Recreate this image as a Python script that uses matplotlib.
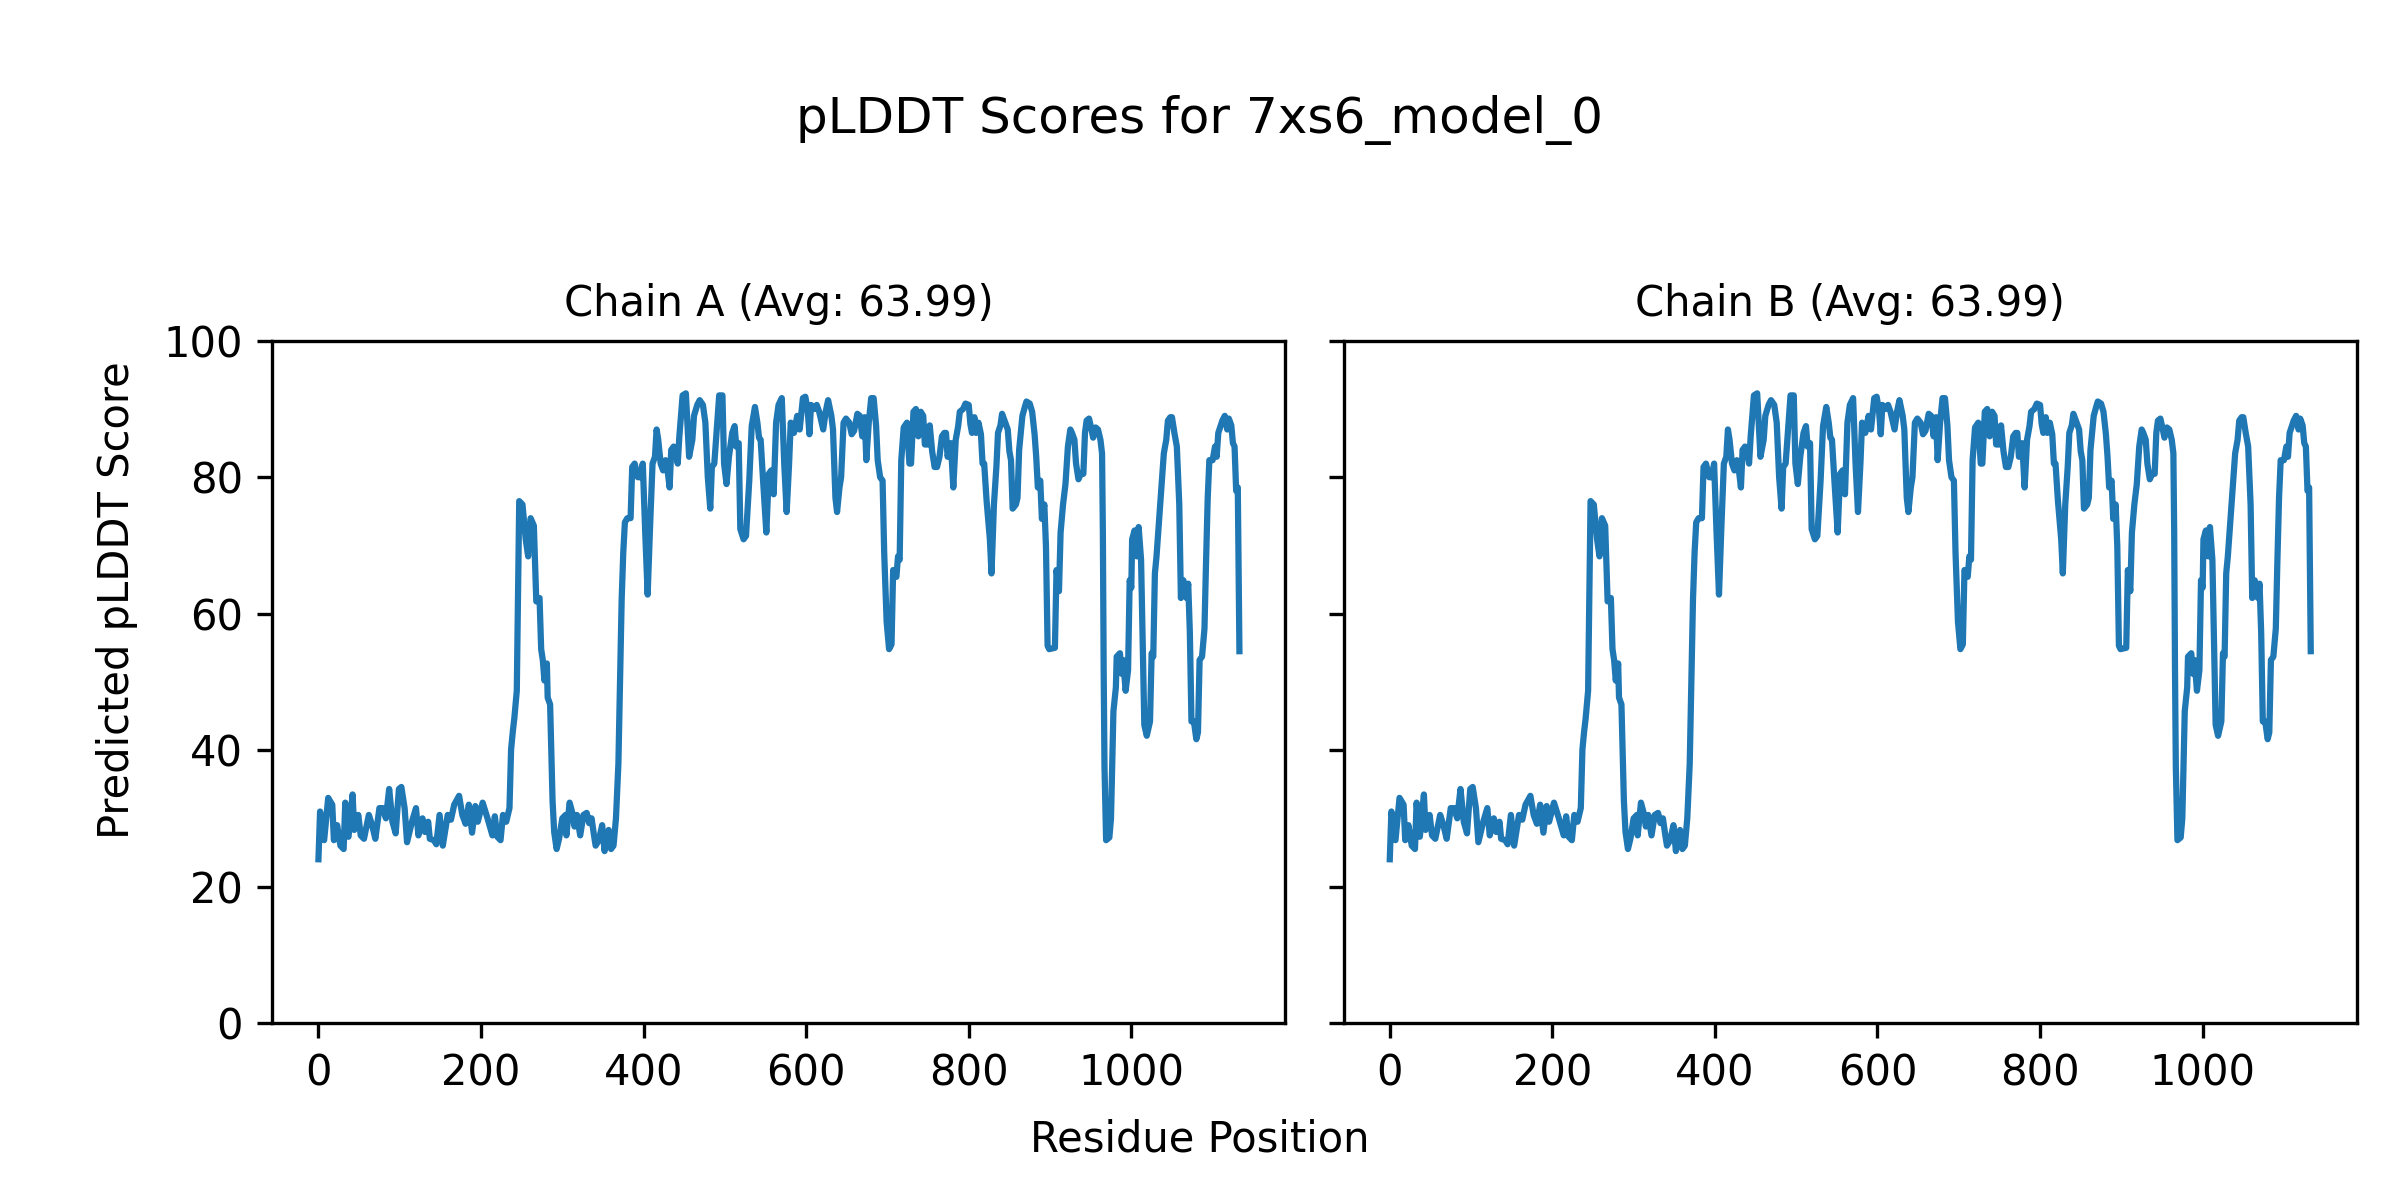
import matplotlib
matplotlib.use("Agg")
import matplotlib.pyplot as plt

title = "pLDDT Scores for 7xs6_model_0"
chain_names = ["Chain A", "Chain B"]
chain_avgs = [63.99, 63.99]
x_label = "Residue Position"
y_label = "Predicted pLDDT Score"

# Residue positions and pLDDT values
residues = [
    0, 2, 7, 12, 17, 19, 23, 27, 31, 33, 37, 42, 44, 49, 52, 56, 62, 66, 70, 75,
    79, 83, 87, 91, 95, 99, 102, 106, 109, 115, 120, 123, 128, 131, 135, 137, 142, 145, 149, 153,
    159, 163, 167, 173, 177, 181, 185, 189, 193, 196, 202, 208, 214, 217, 220, 224, 227, 231, 235, 237,
    239, 241, 244, 247, 251, 255, 258, 261, 265, 268, 272, 274, 276, 278, 281, 282, 285, 286, 288, 290,
    293, 296, 300, 304, 305, 309, 313, 315, 318, 322, 326, 330, 333, 336, 339, 341, 345, 349, 352, 354,
    357, 360, 363, 366, 369, 371, 373, 375, 377, 380, 384, 386, 389, 393, 396, 399, 402, 405, 408, 411,
    414, 416, 418, 421, 424, 427, 430, 432, 434, 437, 440, 442, 444, 448, 452, 456, 460, 462, 466, 469,
    473, 476, 479, 482, 484, 487, 490, 493, 497, 499, 502, 505, 509, 512, 514, 517, 519, 523, 526, 530,
    533, 537, 540, 542, 544, 547, 551, 554, 557, 560, 563, 566, 570, 573, 576, 579, 581, 585, 589, 592,
    596, 599, 602, 604, 606, 610, 613, 616, 621, 624, 627, 631, 633, 636, 638, 641, 643, 646, 649, 653,
    656, 659, 663, 666, 669, 672, 674, 677, 680, 683, 686, 688, 691, 694, 696, 699, 702, 705, 707, 711,
    713, 715, 717, 720, 724, 727, 729, 732, 735, 738, 741, 744, 746, 750, 752, 755, 758, 761, 764, 767,
    770, 772, 774, 778, 781, 784, 787, 789, 793, 796, 800, 802, 804, 807, 809, 812, 815, 817, 819, 822,
    826, 828, 831, 834, 836, 839, 841, 844, 848, 850, 852, 854, 858, 860, 862, 866, 869, 871, 875, 878,
    881, 883, 885, 888, 890, 893, 895, 897, 899, 906, 908, 911, 913, 916, 919, 922, 925, 927, 930, 932,
    935, 938, 941, 943, 945, 948, 951, 953, 956, 959, 962, 964, 965, 966, 967, 969, 973, 975, 977, 978,
    981, 982, 986, 988, 990, 993, 996, 998, 1000, 1001, 1004, 1007, 1009, 1012, 1014, 1016, 1019, 1023, 1025, 1027,
    1029, 1031, 1034, 1037, 1040, 1043, 1045, 1048, 1050, 1053, 1056, 1059, 1061, 1064, 1068, 1070, 1072, 1074, 1077, 1080,
    1082, 1084, 1087, 1090, 1092, 1094, 1096, 1100, 1103, 1105, 1107, 1110, 1112, 1115, 1118, 1120, 1123, 1125, 1127, 1129,
    1131, 1133,
]
plddt = [
    24.0, 31.0, 26.8, 33.0, 32.0, 26.8, 29.0, 26.0, 25.5, 32.3, 27.3, 33.5, 28.3, 30.5, 27.5, 27.0, 30.5, 29.0, 27.0, 31.5,
    31.5, 30.0, 34.3, 29.5, 27.8, 34.3, 34.6, 31.5, 26.5, 29.5, 31.5, 27.5, 30.0, 28.0, 29.5, 27.0, 26.8, 26.2, 30.5, 26.0,
    30.5, 29.8, 32.0, 33.3, 30.5, 29.2, 32.0, 27.9, 31.8, 29.5, 32.3, 30.0, 27.5, 30.3, 27.3, 26.8, 30.5, 29.5, 31.5, 40.1,
    42.6, 44.7, 48.7, 76.5, 76.0, 70.9, 68.4, 74.0, 72.9, 61.8, 62.3, 54.8, 53.2, 50.2, 52.7, 47.7, 46.7, 42.1, 32.6, 28.0,
    25.5, 27.0, 30.0, 30.5, 27.5, 32.3, 30.5, 28.8, 30.5, 27.5, 30.5, 30.8, 29.3, 30.0, 27.5, 26.0, 26.8, 29.0, 25.2, 26.8,
    28.3, 25.5, 26.0, 30.0, 38.0, 50.0, 62.0, 69.0, 73.4, 74.0, 74.0, 81.5, 82.0, 80.0, 80.0, 82.0, 71.9, 62.8, 72.9, 82.0,
    83.0, 87.0, 85.5, 82.0, 81.0, 82.5, 80.5, 78.5, 84.0, 84.5, 83.5, 82.0, 86.0, 92.0, 92.3, 83.0, 85.5, 89.0, 90.6, 91.3,
    90.6, 88.0, 80.0, 75.4, 81.5, 82.0, 87.0, 92.0, 92.0, 82.0, 79.0, 83.0, 86.5, 87.5, 84.5, 85.0, 72.4, 70.9, 71.4, 79.5,
    87.5, 90.3, 88.0, 85.8, 85.5, 79.5, 71.9, 80.5, 81.0, 77.5, 88.0, 90.6, 91.6, 82.0, 74.9, 82.0, 88.0, 86.5, 89.0, 87.0,
    91.6, 91.8, 89.6, 86.3, 90.6, 90.0, 90.6, 89.6, 87.0, 89.6, 91.3, 89.0, 87.0, 77.0, 74.9, 78.5, 80.0, 88.0, 88.6, 88.0,
    86.3, 86.8, 89.3, 89.0, 86.0, 88.8, 82.5, 88.0, 91.6, 91.6, 87.6, 82.5, 80.0, 79.5, 68.9, 58.8, 54.8, 55.5, 66.4, 65.4,
    68.4, 67.9, 82.5, 87.3, 88.0, 82.0, 82.0, 89.6, 90.0, 86.0, 89.6, 89.0, 84.8, 84.8, 87.6, 83.8, 81.5, 81.5, 83.0, 86.0,
    86.5, 86.5, 83.0, 85.0, 78.5, 85.5, 87.5, 89.6, 90.0, 90.8, 90.6, 87.8, 86.5, 88.8, 86.5, 88.0, 86.3, 82.0, 82.0, 76.5,
    70.9, 65.9, 76.0, 81.5, 86.5, 87.6, 89.3, 88.3, 87.0, 83.8, 82.5, 75.4, 76.0, 77.0, 84.0, 89.0, 90.3, 91.1, 90.8, 89.6,
    86.3, 83.0, 78.5, 79.5, 73.9, 76.0, 69.9, 55.3, 54.8, 55.0, 66.4, 63.3, 71.9, 76.0, 79.0, 84.5, 87.0, 86.5, 85.5, 82.0,
    79.7, 80.5, 80.5, 86.5, 88.3, 88.6, 87.0, 85.8, 87.3, 87.0, 85.5, 83.5, 71.9, 51.7, 37.6, 26.8, 27.2, 30.0, 40.1, 45.7,
    49.2, 53.7, 54.2, 51.2, 53.2, 48.7, 51.7, 64.9, 63.8, 70.9, 72.2, 68.4, 72.7, 67.9, 55.8, 43.7, 42.1, 44.2, 54.2, 53.7,
    65.9, 68.4, 73.4, 78.5, 83.5, 85.5, 88.3, 88.8, 88.8, 86.5, 84.5, 76.0, 62.3, 64.9, 62.3, 64.4, 57.3, 44.2, 44.2, 41.6,
    42.6, 53.2, 53.7, 57.8, 67.9, 77.0, 82.5, 82.5, 84.5, 83.0, 86.5, 87.6, 88.3, 89.0, 87.0, 88.6, 87.6, 85.0, 84.5, 78.0,
    78.5, 54.5,
]

chain_scores = [plddt, list(plddt)]
y_ticks = [0, 20, 40, 60, 80, 100]
x_ticks = [0, 200, 400, 600, 800, 1000]

fig, axes = plt.subplots(1, 2, figsize=(8, 4), dpi=300, sharey=True)
fig.subplots_adjust(left=0.1135, right=0.982, bottom=0.1475, top=0.716, wspace=0.0575)

for ax, name, avg, scores in zip(axes, chain_names, chain_avgs, chain_scores):
    ax.plot(residues, scores, color="#1f77b4", linewidth=1.5)
    ax.set_title(f"{name} (Avg: {avg:.2f})", fontsize=10)
    ax.set_ylim(0, 100)
    ax.set_yticks(y_ticks)
    ax.set_xticks(x_ticks)
    ax.tick_params(labelsize=10)

fig.suptitle(title, fontsize=12, y=0.90, va="center")
fig.text(0.5, 0.04, x_label, ha="center", fontsize=10)
fig.text(0.04, 0.5, y_label, va="center", rotation="vertical", fontsize=10)

fig.savefig("out.png", dpi=300)
